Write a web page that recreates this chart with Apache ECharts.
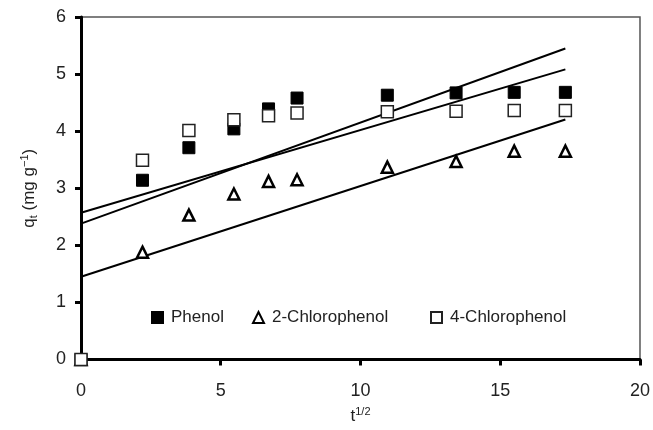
<!DOCTYPE html>
<html>
<head>
<meta charset="utf-8">
<script src="https://cdn.jsdelivr.net/npm/echarts@6/dist/echarts.min.js"></script>
<style>
  html, body { margin: 0; padding: 0; background: #fff; }
  #chart { width: 653px; height: 430px; }
</style>
</head>
<body>
<div id="chart"></div>
<script>
// square root of time (x) and uptake q_t for each compound
var tHalf = [0, 2.2, 3.86, 5.47, 6.71, 7.73, 10.96, 13.42, 15.5, 17.33];
var phenol = [0, 3.14, 3.71, 4.04, 4.39, 4.58, 4.63, 4.67, 4.68, 4.68];
var chloro2 = [0, 1.88, 2.53, 2.90, 3.12, 3.15, 3.37, 3.47, 3.65, 3.65];
var chloro4 = [0, 3.49, 4.01, 4.20, 4.27, 4.32, 4.34, 4.35, 4.36, 4.36];

// intraparticle diffusion fits: q = slope * t^1/2 + intercept
var names = ['Phenol', '2-Chlorophenol', '4-Chlorophenol'];
var fitSlope = [0.177, 0.159, 0.145];
var fitIntercept = [2.38, 1.45, 2.57];

var xTicks = [0, 5, 10, 15, 20];
var yTicks = [0, 1, 2, 3, 4, 5, 6];

function pairs(ys) {
  return tHalf.map(function (x, i) { return [x, ys[i]]; });
}
function fitLine(i) {
  var xEnd = tHalf[tHalf.length - 1];
  return [[0, fitIntercept[i]], [xEnd, fitIntercept[i] + fitSlope[i] * xEnd]];
}

var chart = echarts.init(document.getElementById('chart'), null, { renderer: 'canvas' });
var font = 'Liberation Sans, Arial, sans-serif';

var legendBase = {
  top: 304,
  itemWidth: 11,
  itemHeight: 11,
  textStyle: { fontFamily: font, fontSize: 17, color: '#222', padding: [0, 0, 0, 3] },
  selectedMode: false
};

var option = {
  backgroundColor: '#fff',
  animation: false,
  grid: {
    left: 81, right: 13, top: 17, bottom: 67,
    show: true, borderColor: '#555', borderWidth: 1.5
  },
  legend: [
    Object.assign({ left: 146, data: [names[0]] }, legendBase),
    Object.assign({ left: 247, data: [names[1]] }, legendBase),
    Object.assign({ left: 425, data: [names[2]] }, legendBase)
  ],
  xAxis: {
    type: 'value', min: xTicks[0], max: xTicks[xTicks.length - 1], interval: 5,
    name: 't{sup|1/2}', nameLocation: 'middle', nameGap: 47,
    nameTextStyle: {
      fontFamily: font, fontSize: 17, color: '#222',
      rich: { sup: { fontFamily: font, fontSize: 11, color: '#222', verticalAlign: 'top', padding: [0, 0, 9, 0] } }
    },
    axisLine: { show: true, onZero: false, lineStyle: { color: '#000', width: 3 } },
    axisTick: { show: true, inside: false, length: 6, lineStyle: { color: '#000', width: 3 } },
    axisLabel: { margin: 23, fontFamily: font, fontSize: 18, color: '#222' },
    splitLine: { show: false }
  },
  yAxis: {
    type: 'value', min: yTicks[0], max: yTicks[yTicks.length - 1], interval: 1,
    name: 'q{sub|t} (mg g{sup|−1})', nameLocation: 'middle', nameGap: 42, nameRotate: 90,
    nameTextStyle: {
      fontFamily: font, fontSize: 17, color: '#222',
      rich: {
        sub: { fontFamily: font, fontSize: 11, color: '#222', verticalAlign: 'bottom', padding: [6, 0, 0, 0] },
        sup: { fontFamily: font, fontSize: 11, color: '#222', verticalAlign: 'top', padding: [0, 0, 9, 0] }
      }
    },
    axisLine: { show: true, onZero: false, lineStyle: { color: '#000', width: 3 } },
    axisTick: { show: true, inside: false, length: 6, lineStyle: { color: '#000', width: 3 } },
    axisLabel: { margin: 15, fontFamily: font, fontSize: 18, color: '#222' },
    splitLine: { show: false }
  },
  series: [
    {
      name: 'fit0', type: 'line', data: fitLine(0), symbol: 'none', z: 1,
      lineStyle: { color: '#000', width: 2 }, silent: true
    },
    {
      name: 'fit1', type: 'line', data: fitLine(1), symbol: 'none', z: 1,
      lineStyle: { color: '#000', width: 2 }, silent: true
    },
    {
      name: 'fit2', type: 'line', data: fitLine(2), symbol: 'none', z: 1,
      lineStyle: { color: '#000', width: 2 }, silent: true
    },
    {
      name: names[0], type: 'scatter', data: pairs(phenol), symbol: 'rect', symbolSize: 12,
      clip: false, z: 3,
      itemStyle: { color: '#000', borderColor: '#000', borderWidth: 1, opacity: 1 }
    },
    {
      name: names[1], type: 'scatter', data: pairs(chloro2), symbol: 'triangle', symbolSize: [11, 11],
      clip: false, z: 3,
      itemStyle: { color: '#fff', borderColor: '#000', borderWidth: 2.5, opacity: 1 }
    },
    {
      name: names[2], type: 'scatter', data: pairs(chloro4), symbol: 'rect', symbolSize: 12,
      clip: false, z: 4,
      itemStyle: { color: '#fff', borderColor: '#222', borderWidth: 1.5, opacity: 1 }
    }
  ]
};

chart.setOption(option);
window.addEventListener('resize', chart.resize);
</script>
</body>
</html>
